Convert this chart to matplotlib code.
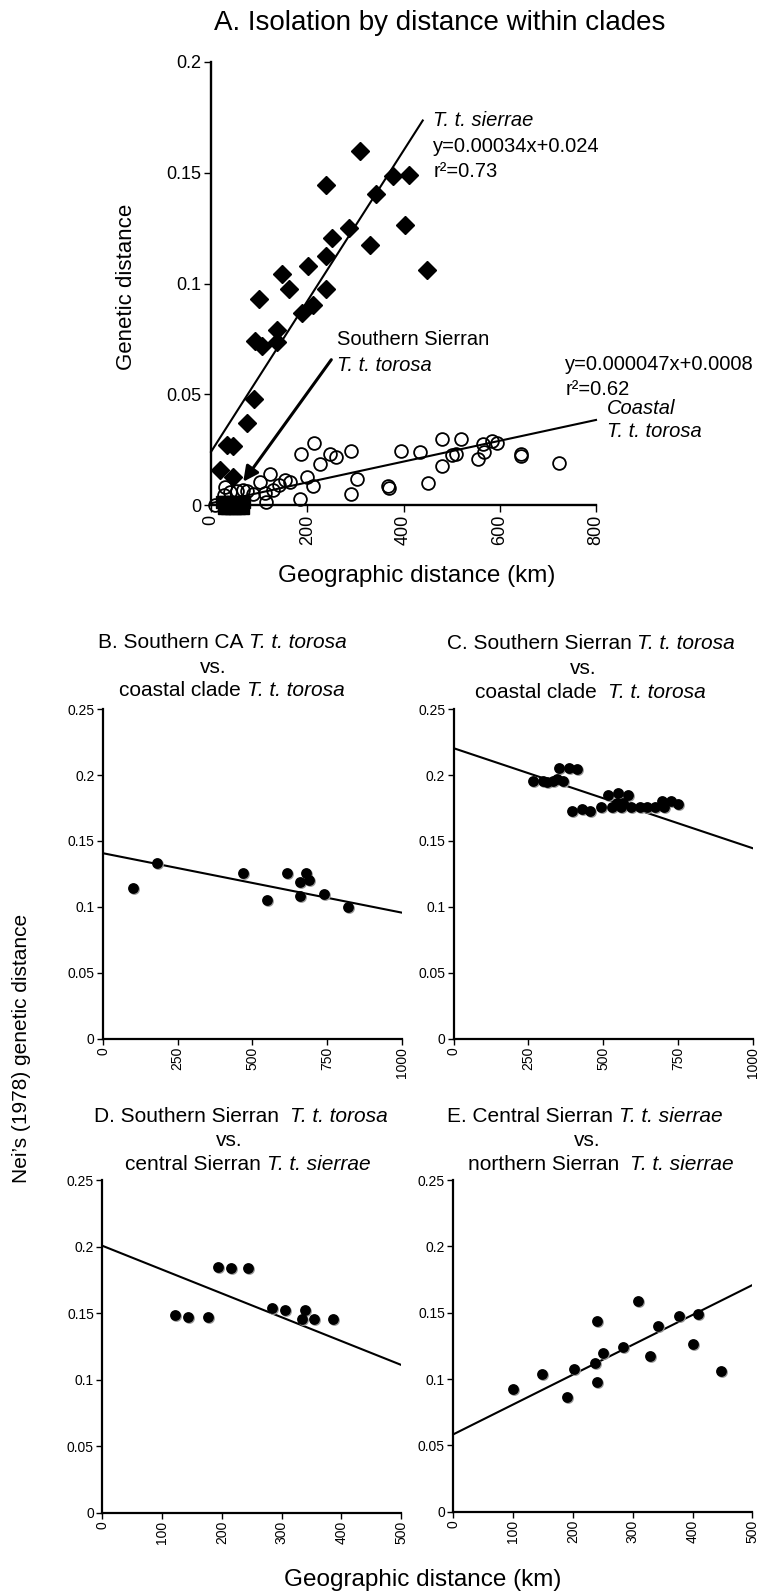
import numpy as np
import matplotlib
matplotlib.use("Agg")
import matplotlib.pyplot as plt
from matplotlib import font_manager
from matplotlib.transforms import offset_copy

names = {f.name for f in font_manager.fontManager.ttflist}
narrow = "Liberation Sans Narrow" if "Liberation Sans Narrow" in names else "Liberation Sans"
plt.rcParams["font.family"] = [narrow, "DejaVu Sans"]

# ---- panel A data (km, genetic distance)
sierrae_x = [309, 239, 379, 412, 343, 404, 287, 251, 330, 239, 202, 147, 448, 163, 239,
             99, 211, 190, 138, 138, 91, 105, 89, 74, 34, 46, 19, 46]
sierrae_y = [0.160, 0.1445, 0.1486, 0.149, 0.1406, 0.1264, 0.1249, 0.1204, 0.1173, 0.1124,
             0.1081, 0.1044, 0.1063, 0.0973, 0.0973, 0.0931, 0.0905, 0.0866, 0.0792, 0.0734,
             0.0739, 0.0716, 0.048, 0.037, 0.027, 0.0267, 0.0158, 0.0128]
ssierra_x = [22, 30, 38, 46, 54, 62, 68, 26, 34, 42, 50, 58, 66]
ssierra_y = [0.0012] * 7 + [-0.0012] * 6
coastal_x = [214, 187, 247, 259, 291, 226, 123, 102, 199, 211, 303, 291, 185, 114, 154,
             164, 142, 128, 112, 88, 29, 39, 53, 66, 74, 8, 26, 368, 370, 395, 434, 451,
             479, 479, 500, 510, 519, 555, 567, 566, 583, 595, 644, 644, 723]
coastal_y = [0.0279, 0.0229, 0.0229, 0.0216, 0.0246, 0.0186, 0.014, 0.0106, 0.0128, 0.0086,
             0.0116, 0.0048, 0.0027, 0.0015, 0.0113, 0.0103, 0.009, 0.0068, 0.0056, 0.005,
             0.008, 0.006, 0.0065, 0.0068, 0.0065, 0.0, 0.0045, 0.0086, 0.0078, 0.0246,
             0.0238, 0.0098, 0.0297, 0.0178, 0.0226, 0.0231, 0.0299, 0.0207, 0.0238, 0.0276,
             0.0291, 0.0279, 0.0231, 0.0219, 0.0189]
fit_sierrae = (0.00034, 0.024, 440)      # slope, intercept, max x
fit_coastal = (0.000047, 0.0008, 800)

# ---- panels B-E
B_x = [99, 180, 470, 550, 615, 660, 680, 691, 660, 740, 821]
B_y = [0.114, 0.133, 0.1255, 0.105, 0.1255, 0.119, 0.1255, 0.1205, 0.108, 0.110, 0.100]
B_fit = (0.1407, -0.0000451)

C_x = [267, 300, 312, 332, 345, 367, 353, 387, 412, 397, 431, 457, 493, 518, 551, 583,
       529, 560, 594, 624, 647, 674, 702, 696, 727, 752, 546, 566]
C_y = [0.1957, 0.1957, 0.195, 0.1957, 0.197, 0.1957, 0.2058, 0.2058, 0.2046, 0.1731,
       0.1744, 0.1731, 0.1757, 0.185, 0.1863, 0.185, 0.1757, 0.1757, 0.1757, 0.1757,
       0.1757, 0.1757, 0.176, 0.18, 0.18, 0.178, 0.179, 0.179]
C_fit = (0.2205, -0.000076)

D_x = [122, 144, 177, 194, 215, 244, 284, 306, 339, 335, 354, 387]
D_y = [0.1486, 0.1473, 0.1473, 0.1844, 0.1836, 0.1836, 0.1536, 0.1523, 0.1523, 0.1453,
       0.1453, 0.1453]
D_fit = (0.2006, -0.000179)

E_x = [99, 148, 190, 202, 237, 240, 240, 250, 284, 309, 329, 342, 377, 400, 410, 448]
E_y = [0.0925, 0.1038, 0.0867, 0.1076, 0.1123, 0.1437, 0.0975, 0.1198, 0.1239, 0.1588,
       0.1176, 0.14, 0.1475, 0.1262, 0.1488, 0.1063]
E_fit = (0.0583, 0.000225)

yticks_small = [0, 0.05, 0.1, 0.15, 0.2, 0.25]
yticklabels_small = ["0", "0.05", "0.1", "0.15", "0.2", "0.25"]

W, H = 759, 1596
fig = plt.figure(figsize=(W / 100, H / 100), dpi=100)
renderer = fig.canvas.get_renderer()


def px_axes(l, r, t, b):
    return fig.add_axes([l / W, 1 - b / H, (r - l) / W, (b - t) / H])


def style(ax, lw=1.7):
    for s in ["top", "right"]:
        ax.spines[s].set_visible(False)
    for s in ["left", "bottom"]:
        ax.spines[s].set_linewidth(lw)
    ax.tick_params(direction="out", length=5, width=1.0, pad=2)


def mixed(cx, cy, parts, fs=15):
    # line of text made of upright / italic pieces, centred on (cx, cy) in pixels
    objs = [fig.text(0, 1 - cy / H, t, fontsize=fs, style=st, ha="left", va="center")
            for t, st in parts]
    gap = 0.27 * fs * 100 / 72
    widths = [o.get_window_extent(renderer).width for o in objs]
    x = cx - (sum(widths) + gap * (len(objs) - 1)) / 2
    for o, w in zip(objs, widths):
        o.set_x(x / W)
        x += w + gap


# ---------------- panel A
axA = px_axes(211, 596, 62, 505)
style(axA)
axA.set_xlim(0, 800)
axA.set_ylim(0, 0.2)
axA.set_xticks([0, 200, 400, 600, 800])
axA.set_xticklabels(["0", "200", "400", "600", "800"], rotation=90, fontsize=13)
axA.set_yticks([0, 0.05, 0.1, 0.15, 0.2])
axA.set_yticklabels(["0", "0.05", "0.1", "0.15", "0.2"], fontsize=13)

axA.plot(coastal_x, coastal_y, "o", ms=9.2, mfc="none", mec="black", mew=1.3, clip_on=False, zorder=3)
axA.plot(sierrae_x, sierrae_y, "D", ms=9, mfc="black", mec="black", clip_on=False, zorder=4)
axA.plot(ssierra_x, ssierra_y, "s", ms=8, mfc="black", mec="black", clip_on=False, zorder=5)

for m, c, xmax in [fit_sierrae, fit_coastal]:
    xx = np.array([0, xmax])
    axA.plot(xx, m * xx + c, color="black", lw=1.5, clip_on=False, zorder=2)

axA.annotate("", xy=(67, 0.0105), xytext=(250, 0.0656),
             arrowprops=dict(arrowstyle="-|>,head_length=0.9,head_width=0.45",
                             color="black", lw=2.2, shrinkA=0, shrinkB=0), zorder=6)

fs_ann = 14.5
axA.text(462, 0.1735, "T. t. sierrae", style="italic", fontsize=fs_ann, va="center")
axA.text(462, 0.162, "y=0.00034x+0.024", fontsize=fs_ann, va="center")
axA.text(462, 0.1505, "r\u00b2=0.73", fontsize=fs_ann, va="center")
axA.text(262, 0.0745, "Southern Sierran", fontsize=fs_ann, va="center")
axA.text(262, 0.063, "T. t. torosa", style="italic", fontsize=fs_ann, va="center")
axA.text(736, 0.0635, "y=0.000047x+0.0008", fontsize=fs_ann, va="center")
axA.text(736, 0.052, "r\u00b2=0.62", fontsize=fs_ann, va="center")
axA.text(822, 0.0435, "Coastal", style="italic", fontsize=fs_ann, va="center")
axA.text(822, 0.033, "T. t. torosa", style="italic", fontsize=fs_ann, va="center")

fig.text(440 / W, 1 - 23 / H, "A. Isolation by distance within clades", fontsize=20,
         ha="center", va="center")
fig.text(127 / W, 1 - 287 / H, "Genetic distance", fontsize=16, rotation=90,
         ha="center", va="center")
fig.text(417 / W, 1 - 576 / H, "Geographic distance (km)", fontsize=17.5,
         ha="center", va="center")


# ---------------- panels B-E
def dots(ax, x, y):
    shadow = offset_copy(ax.transData, fig=fig, x=1.0, y=-1.0, units="dots")
    ax.plot(x, y, "o", ms=7.8, mfc="#9a9a9a", mec="none", transform=shadow, clip_on=False, zorder=3)
    ax.plot(x, y, "o", ms=7.8, mfc="black", mec="none", clip_on=False, zorder=4)


def small_panel(box, xs, ys, fit, xmax, xticks, title_lines):
    ax = px_axes(*box)
    style(ax, lw=1.6)
    ax.set_xlim(0, xmax)
    ax.set_ylim(0, 0.25)
    ax.set_xticks(xticks)
    ax.set_xticklabels([str(t) for t in xticks], rotation=90, fontsize=10)
    ax.set_yticks(yticks_small)
    ax.set_yticklabels(yticklabels_small, fontsize=10)
    ax.tick_params(length=4)
    c, m = fit
    xx = np.array([0, xmax])
    ax.plot(xx, c + m * xx, color="black", lw=1.5, zorder=2)
    dots(ax, xs, ys)
    for parts, cx, cy in title_lines:
        mixed(cx, cy, parts)
    return ax


N, I = "normal", "italic"
small_panel((103, 401.7, 709.3, 1038.5), B_x, B_y, B_fit, 1000, [0, 250, 500, 750, 1000],
            [([("B. Southern CA", N), ("T. t. torosa", I)], 222, 643),
             ([("vs.", N)], 213, 667),
             ([("coastal clade", N), ("T. t. torosa", I)], 232, 691)])
small_panel((453.5, 752.7, 709.3, 1038.5), C_x, C_y, C_fit, 1000, [0, 250, 500, 750, 1000],
            [([("C. Southern Sierran", N), ("T. t. torosa", I)], 591, 644),
             ([("vs.", N)], 583, 668),
             ([("coastal clade ", N), ("T. t. torosa", I)], 590, 693)])
small_panel((102.3, 401, 1180, 1512.7), D_x, D_y, D_fit, 500, [0, 100, 200, 300, 400, 500],
            [([("D. Southern Sierran ", N), ("T. t. torosa", I)], 241, 1117),
             ([("vs.", N)], 229, 1140),
             ([("central Sierran", N), ("T. t. sierrae", I)], 248, 1165)])
small_panel((453.3, 752.3, 1180, 1511.7), E_x, E_y, E_fit, 500, [0, 100, 200, 300, 400, 500],
            [([("E. Central Sierran", N), ("T. t. sierrae", I)], 585, 1117),
             ([("vs.", N)], 587, 1140),
             ([("northern Sierran ", N), ("T. t. sierrae", I)], 601, 1165)])

fig.text(22 / W, 1 - 1048 / H, "Nei\u2019s (1978) genetic distance", fontsize=15, rotation=90,
         ha="center", va="center")
fig.text(423 / W, 1 - 1580 / H, "Geographic distance (km)", fontsize=17.5,
         ha="center", va="center")

fig.savefig("out.png", dpi=100)
